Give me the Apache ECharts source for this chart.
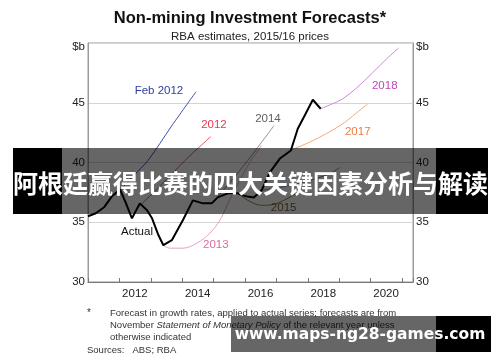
<!DOCTYPE html>
<html><head><meta charset="utf-8">
<script src="https://cdn.jsdelivr.net/npm/echarts@6/dist/echarts.min.js"></script>
<style>html,body{margin:0;padding:0;background:#fff}#c{width:500px;height:362px}</style>
</head><body><div id="c"></div><script>
// ---- data (year, $b) ----
const actual = [[2011.00,35.5],[2011.25,35.75],[2011.51,36.25],[2011.76,37.17],[2012.02,37.75],[2012.21,36.58],[2012.40,35.33],[2012.65,36.58],[2012.88,36.0],[2013.04,35.33],[2013.23,34.0],[2013.40,33.08],[2013.67,33.5],[2014.02,35.17],[2014.34,36.83],[2014.66,36.58],[2014.94,36.58],[2015.13,37.08],[2015.45,37.42],[2015.77,37.42],[2016.03,37.17],[2016.28,37.08],[2016.53,37.67],[2016.79,39.17],[2017.11,40.33],[2017.33,40.75],[2017.46,41.0],[2017.68,42.83],[2017.93,44.08],[2018.16,45.25],[2018.41,44.5]];
const fcFeb2012 = [[2012.02,37.67],[2012.46,38.92],[2012.91,40.17],[2013.67,43.08],[2014.44,45.92]];
const fc2012 = [[2012.56,36.17],[2013.29,38.0],[2014.09,40.17],[2014.91,42.17]];
const fc2013 = [[2013.39,33.08],[2013.61,32.83],[2014.02,32.83],[2014.47,33.25],[2014.88,34.08],[2015.20,35.17],[2015.52,36.92],[2015.83,38.5],[2016.15,40.0],[2016.53,41.42]];
const fc2014 = [[2014.94,36.58],[2015.52,38.33],[2016.09,40.17],[2016.92,43.08]];
const fc2015 = [[2015.77,37.42],[2016.15,36.75],[2016.53,36.42],[2016.92,36.5],[2017.30,36.92],[2017.74,37.58]];
const fc2016 = [[2016.53,37.67],[2017.27,38.0],[2018.07,38.5],[2018.70,39.08],[2019.02,39.58]];
const fc2017 = [[2017.42,41.0],[2018.16,41.83],[2019.02,43.08],[2019.56,44.17],[2019.91,44.92]];
const fc2018 = [[2018.41,44.5],[2018.79,44.92],[2019.11,45.33],[2019.56,46.25],[2020.06,47.5],[2020.51,48.67],[2020.89,49.58]];
const xTickLabels = ['2012','2014','2016','2018','2020'];
const yTickLabels = {30:'30',35:'35',40:'40',45:'45',50:'$b'};
const seriesNames = ['Actual','Feb 2012','2012','2013','2014','2015','2016','2017','2018'];

// ---- layout / style ----
const labelPos = {
  'Actual':[2012.56,34.17],'Feb 2012':[2013.26,46.0],'2012':[2015.01,43.17],'2013':[2015.07,33.08],
  '2014':[2016.73,43.67],'2015':[2017.23,36.17],'2017':[2019.59,42.58],'2018':[2020.45,46.42]
};
const lineColors = {'Actual':'#000','Feb 2012':'#4050a8','2012':'#e8505a','2013':'#e6a0c4','2014':'#909090',
  '2015':'#9a8040','2016':'#5a9ad0','2017':'#f5a878','2018':'#cc88d8'};
const textColors = {'Actual':'#111','Feb 2012':'#3040a0','2012':'#e83848','2013':'#d86aa4','2014':'#606060',
  '2015':'#7a6430','2017':'#f07a40','2018':'#b848b8'};
const F = '"Liberation Sans", Arial, sans-serif';
const dataBySeries = {'Actual':actual,'Feb 2012':fcFeb2012,'2012':fc2012,'2013':fc2013,'2014':fc2014,
  '2015':fc2015,'2016':fc2016,'2017':fc2017,'2018':fc2018};

const chart = echarts.init(document.getElementById('c'));
const series = seriesNames.map(n => ({
  name:n, type:'line', data:dataBySeries[n], symbol:'none', smooth: n==='Actual'?false:0.35,
  lineStyle:{color:lineColors[n], width: n==='Actual'?2:1}, z: n==='Actual'?5:3, silent:true
}));
const yLabel = {formatter: v => yTickLabels[v]==='$b' ? '{t|$b}' : (yTickLabels[v]||''),
  color:'#222', fontSize:11.5, fontFamily:F, rich:{t:{fontSize:11.5, fontFamily:F, color:'#222', padding:[8,0,0,0]}}};
chart.setOption({
  animation:false,
  title:[{text:'Non-mining Investment Forecasts*', left:'center', top:5,
    textStyle:{fontFamily:F, fontWeight:'bold', fontSize:16.5, color:'#111'}},
    {text:'RBA estimates, 2015/16 prices', left:'center', top:26,
    textStyle:{fontFamily:F, fontWeight:'normal', fontSize:11.5, color:'#222'}}],
  grid:{left:88,right:87,top:43,bottom:80,show:true,borderColor:'#9a9a9a',borderWidth:1,backgroundColor:'transparent'},
  xAxis:{type:'value',min:2011,max:2021.35,interval:1,
    axisLine:{lineStyle:{color:'#777'}},axisTick:{inside:true,length:4,lineStyle:{color:'#777'}},splitLine:{show:false},
    axisLabel:{formatter:v=>{const s=String(v);return xTickLabels.indexOf(s)>=0?s:'';},padding:[0,0,0,31],margin:6,
      color:'#222',fontSize:11.5,fontFamily:F,showMinLabel:true,showMaxLabel:true}},
  yAxis:[
    {type:'value',min:30,max:50,interval:5,position:'left',axisLine:{show:true,lineStyle:{color:'#9a9a9a'}},
      axisTick:{show:false},splitLine:{lineStyle:{color:'#d4d4d4'}},axisLabel:Object.assign({margin:3},yLabel)},
    {type:'value',min:30,max:50,interval:5,position:'right',axisLine:{show:true,lineStyle:{color:'#9a9a9a'}},
      axisTick:{show:false},splitLine:{show:false},axisLabel:Object.assign({margin:3},yLabel)}
  ],
  series
});

const g = [];
Object.keys(labelPos).forEach(n => {
  const p = chart.convertToPixel({gridIndex:0}, labelPos[n]);
  g.push({type:'text',x:p[0],y:p[1],z:20,style:{text:n,fill:textColors[n],font:'11.5px '+F,align:'center',verticalAlign:'middle'}});
});
// footnote
g.push({type:'text',x:87,y:313,z:20,style:{text:'*',fill:'#333',font:'10px '+F,verticalAlign:'middle'}});
g.push({type:'text',x:110,y:313,z:20,style:{text:'Forecast in growth rates, applied to actual series; forecasts are from',fill:'#333',font:'9.5px '+F,verticalAlign:'middle'}});
g.push({type:'text',x:110,y:325,z:20,style:{text:'{n|November }{i|Statement of Monetary Policy}{n| of the relevant year unless}',verticalAlign:'middle',
  rich:{n:{fill:'#333',font:'9.5px '+F},i:{fill:'#333',font:'italic 9.5px '+F}}}});
g.push({type:'text',x:110,y:337,z:20,style:{text:'otherwise indicated',fill:'#333',font:'9.5px '+F,verticalAlign:'middle'}});
g.push({type:'text',x:87,y:350,z:20,style:{text:'Sources:   ABS; RBA',fill:'#333',font:'9.5px '+F,verticalAlign:'middle'}});
// banner overlay
g.push({type:'rect',z:50,shape:{x:13,y:148,width:49,height:66},style:{fill:'#000'}});
g.push({type:'rect',z:50,shape:{x:62,y:148,width:374,height:66},style:{fill:'rgba(0,0,0,0.6)'}});
g.push({type:'rect',z:50,shape:{x:436,y:148,width:52,height:66},style:{fill:'#000'}});
g.push({type:'text',z:51,x:250.5,y:183,style:{text:'阿根廷赢得比赛的四大关键因素分析与解读',fill:'#fff',
  font:'bold 25px "Noto Sans CJK SC", sans-serif',align:'center',verticalAlign:'middle'}});
// watermark
g.push({type:'rect',z:50,shape:{x:231,y:316,width:205,height:36},style:{fill:'rgba(0,0,0,0.6)'}});
g.push({type:'rect',z:50,shape:{x:436,y:316,width:55,height:36},style:{fill:'#000'}});
g.push({type:'text',z:51,x:360,y:335,style:{text:'www.maps-ng28-games.com',fill:'#fff',
  font:'bold 15.5px "DejaVu Sans", sans-serif',align:'center',verticalAlign:'middle'}});
chart.setOption({graphic:g});
</script></body></html>
